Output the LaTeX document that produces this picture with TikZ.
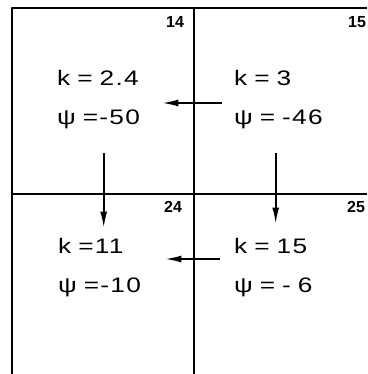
\documentclass[tikz,border=0pt]{standalone}
\usepackage{fontspec}
\setmainfont{Liberation Sans}
\newfontfamily\cellfont[FakeStretch=1.25,LetterSpace=6.0,WordSpace=1.3]{Liberation Sans}
\usetikzlibrary{arrows.meta}
\tikzset{
  grid line/.style={line width=2.1pt},
  cell/.style={anchor=west, align=left, inner sep=0pt,
    font=\cellfont\fontsize{21}{39}\selectfont},
  cellno/.style={font=\fontsize{16}{16}\selectfont\bfseries},
  flow/.style={line width=1.6pt, -{Latex[length=16pt,width=7pt]}},
}
\begin{document}
\begin{tikzpicture}[x=1pt,y=-1pt,line join=round]
  \useasboundingbox (0,0) rectangle (367,374);

  % rohy a osy mřížky
  \coordinate (TL) at (12,8);
  \coordinate (TR) at (367,8);
  \coordinate (BL) at (12,374);

  \draw[grid line] (TR) -- (TL) -- (BL);
  \draw[grid line] (194,8) -- (194,374);
  \draw[grid line] (12,194) -- (367,194);

  % čísla buněk
  \node[cellno] (n14) at (175,22) {14};
  \node[cellno] (n15) at (357,22) {15};
  \node[cellno] (n24) at (173,207) {24};
  \node[cellno] (n25) at (356,207) {25};

  % hodnoty v buňkách
  \node[cell, text width=93pt] (c14) at (57,100)  {k = 2.4\\ψ =-50};
  \node[cell, text width=97pt] (c15) at (234,100) {k = 3\\ψ = -46};
  \node[cell, text width=91pt] (c24) at (58,268) {k =11\\ψ =-10};
  \node[cell, text width=79pt] (c25) at (234,268) {k = 15\\ψ = - 6};

  % toky mezi buňkami
  \draw[flow] ([xshift=-12pt,yshift=-3pt]c15.west) -- ([xshift=12pt,yshift=-3pt]c14.east);
  \draw[flow] ([xshift=-14pt,yshift=9pt]c25.west) -- ([xshift=16pt,yshift=9pt]c24.east);
  \draw[flow, shorten <=24pt, shorten >=11pt] (c14.south) -- (c24.north);
  \draw[flow, shorten <=24pt, shorten >=15pt]
    ([xshift=-7pt]c15.south) -- ([xshift=-7pt]c15.south |- c25.north);
\end{tikzpicture}
\end{document}
